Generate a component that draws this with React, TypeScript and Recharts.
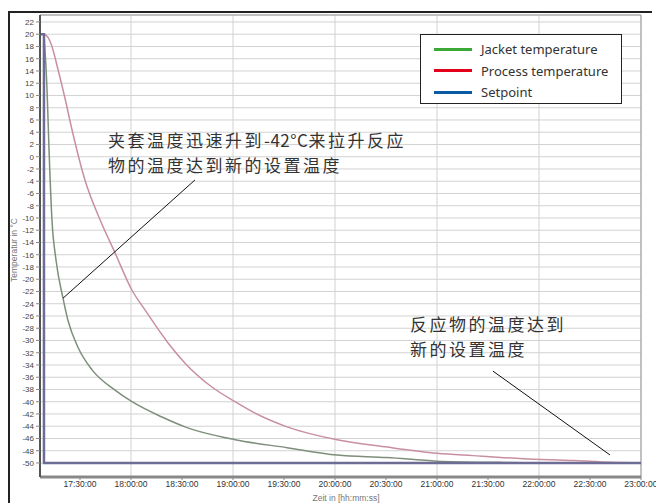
import React from 'react';
import { LineChart, Line, XAxis, YAxis, CartesianGrid, ReferenceLine } from 'recharts';

// minutes since 17:00
const xTicks = [30, 60, 90, 120, 150, 180, 210, 240, 270, 300, 330, 360];
const timeLabels = ['17:30:00', '18:00:00', '18:30:00', '19:00:00', '19:30:00', '20:00:00', '20:30:00', '21:00:00', '21:30:00', '22:00:00', '22:30:00', '23:00:00'];
const yTicks = [-50, -48, -46, -44, -42, -40, -38, -36, -34, -32, -30, -28, -26, -24, -22, -20, -18, -16, -14, -12, -10, -8, -6, -4, -2, 0, 2, 4, 6, 8, 10, 12, 14, 16, 18, 20, 22];

const setpointTime = [6.5, 8.8, 8.8, 360];
const setpointValue = [20, 20, -50, -50];

const jacketTime = [8.8, 10.6, 11.8, 13.5, 15.9, 20.0, 22.9, 28.8, 37.1, 50.6, 60.6, 78.2, 91.8, 121.2, 151.8, 181.2, 210.6, 240, 277, 312.4, 360];
const jacketValue = [20, 11, 1, -10.3, -16.9, -23.1, -26.7, -31.1, -34.8, -38.1, -40, -42.5, -44.1, -46.2, -47.5, -48.7, -49.1, -49.7, -49.9, -50, -50];

const processTime = [8.8, 11.2, 13.5, 17.1, 21.2, 25.3, 32.9, 41.8, 50.6, 60.6, 68.2, 81.8, 91.8, 107.6, 121.2, 131.8, 151.8, 181.2, 210.6, 240, 261.2, 290.6, 321.2, 341.8, 360];
const processValue = [20, 19.5, 18, 14.2, 9.5, 4.4, -3.8, -10.3, -15.7, -21.8, -25, -30.4, -33.7, -37.6, -40, -41.7, -44.1, -46.2, -47.4, -48.4, -48.8, -49.3, -49.6, -49.9, -50];

const legendItems = [
  { name: 'Jacket temperature', color: '#3aa935' },
  { name: 'Process temperature', color: '#e2001a' },
  { name: 'Setpoint', color: '#0b5aa6' },
];

const note1a = '夹套温度迅速升到';
const note1b = '-42°C';
const note1c = '来拉升反应';
const note1d = '物的温度达到新的设置温度';
const note2 = ['反应物的温度达到', '新的设置温度'];

const zip = (t: number[], v: number[]) => t.map((x, i) => ({ t: x, v: v[i] }));
const setpointData = zip(setpointTime, setpointValue);
const jacketData = zip(jacketTime, jacketValue);
const processData = zip(processTime, processValue);

const noteStyle: React.CSSProperties = {
  position: 'absolute',
  fontFamily: '"Noto Sans CJK SC", "Noto Sans", sans-serif',
  fontSize: 17,
  letterSpacing: '2.5px',
  lineHeight: '25px',
  color: '#333',
  whiteSpace: 'pre',
};

export default function App() {
  return (
    <div style={{ position: 'absolute', left: 0, top: 0, width: 656, height: 503, background: '#fff', overflow: 'hidden' }}>
      <div style={{ position: 'absolute', left: 8, top: 11, width: 644, height: 2, background: '#222' }} />
      <div style={{ position: 'absolute', left: 8, top: 11, width: 2, height: 500, background: '#222' }} />
      <LineChart width={656} height={503} margin={{ top: 15, right: 15, bottom: 0, left: 10 }}>
        <CartesianGrid stroke="#d2d2d2" strokeWidth={1} />
        <XAxis
          type="number"
          dataKey="t"
          domain={[6.47, 360]}
          ticks={xTicks}
          allowDataOverflow
          height={26}
          tickSize={3}
          tickMargin={1}
          tickFormatter={(v: number, i: number) => timeLabels[i]}
          tick={{ fontSize: 8.5, fill: '#333', fontFamily: '"Liberation Sans", Arial, sans-serif' }}
          axisLine={{ stroke: '#888', strokeWidth: 3 }}
          tickLine={{ stroke: '#888' }}
        />
        <YAxis
          type="number"
          dataKey="v"
          domain={[-52.29, 23.14]}
          ticks={yTicks}
          allowDataOverflow
          width={30}
          tickSize={4}
          tickMargin={2}
          interval={0}
          tick={{ fontSize: 8, fill: '#444', fontFamily: '"Liberation Sans", Arial, sans-serif' }}
          axisLine={{ stroke: '#555', strokeWidth: 2 }}
          tickLine={{ stroke: '#888' }}
        />
        <ReferenceLine y={23.14} stroke="#999" ifOverflow="visible" />
        <ReferenceLine x={360} stroke="#999" ifOverflow="visible" />
        <Line data={processData} dataKey="v" type="monotone" stroke="#c8909f" strokeWidth={1.5} dot={false} isAnimationActive={false} />
        <Line data={jacketData} dataKey="v" type="monotone" stroke="#7d8f7a" strokeWidth={1.5} dot={false} isAnimationActive={false} />
        <Line data={setpointData} dataKey="v" type="linear" stroke="#6c6c94" strokeWidth={2.5} dot={false} isAnimationActive={false} />
        <ReferenceLine segment={[{ x: 20, y: -23.1 }, { x: 97.6, y: -3.8 }]} stroke="#111" strokeWidth={1} ifOverflow="visible" />
        <ReferenceLine segment={[{ x: 272.9, y: -35.0 }, { x: 341.8, y: -48.7 }]} stroke="#111" strokeWidth={1} ifOverflow="visible" />
      </LineChart>

      <div style={{ position: 'absolute', left: 14, top: 250, transform: 'translate(-50%, -50%) rotate(-90deg)', fontSize: 8.5, color: '#777', fontFamily: '"Liberation Sans", Arial, sans-serif', whiteSpace: 'nowrap' }}>
        Temperatur in °C
      </div>
      <div style={{ position: 'absolute', left: 346, top: 498, transform: 'translate(-50%, -50%)', fontSize: 8.5, color: '#777', fontFamily: '"Liberation Sans", Arial, sans-serif', whiteSpace: 'nowrap' }}>
        Zeit in [hh:mm:ss]
      </div>

      <div style={{ position: 'absolute', left: 420, top: 34, width: 200, height: 68, border: '1px solid #222', background: '#fff' }}>
        {legendItems.map((it, i) => (
          <div key={it.name} style={{ position: 'absolute', left: 0, top: 4 + i * 21.5, height: 20, width: 200, display: 'flex', alignItems: 'center' }}>
            <div style={{ marginLeft: 13, width: 38, height: 3, background: it.color }} />
            <div style={{ marginLeft: 9, fontSize: 13, color: '#333', fontFamily: '"Noto Sans", sans-serif' }}>{it.name}</div>
          </div>
        ))}
      </div>

      <div style={{ ...noteStyle, left: 108, top: 127 }}>
        {note1a}
        <span style={{ letterSpacing: '0.5px' }}>{note1b}</span>
        {note1c}
        {'\n'}
        {note1d}
      </div>
      <div style={{ ...noteStyle, left: 410, top: 311 }}>{note2.join('\n')}</div>
    </div>
  );
}
